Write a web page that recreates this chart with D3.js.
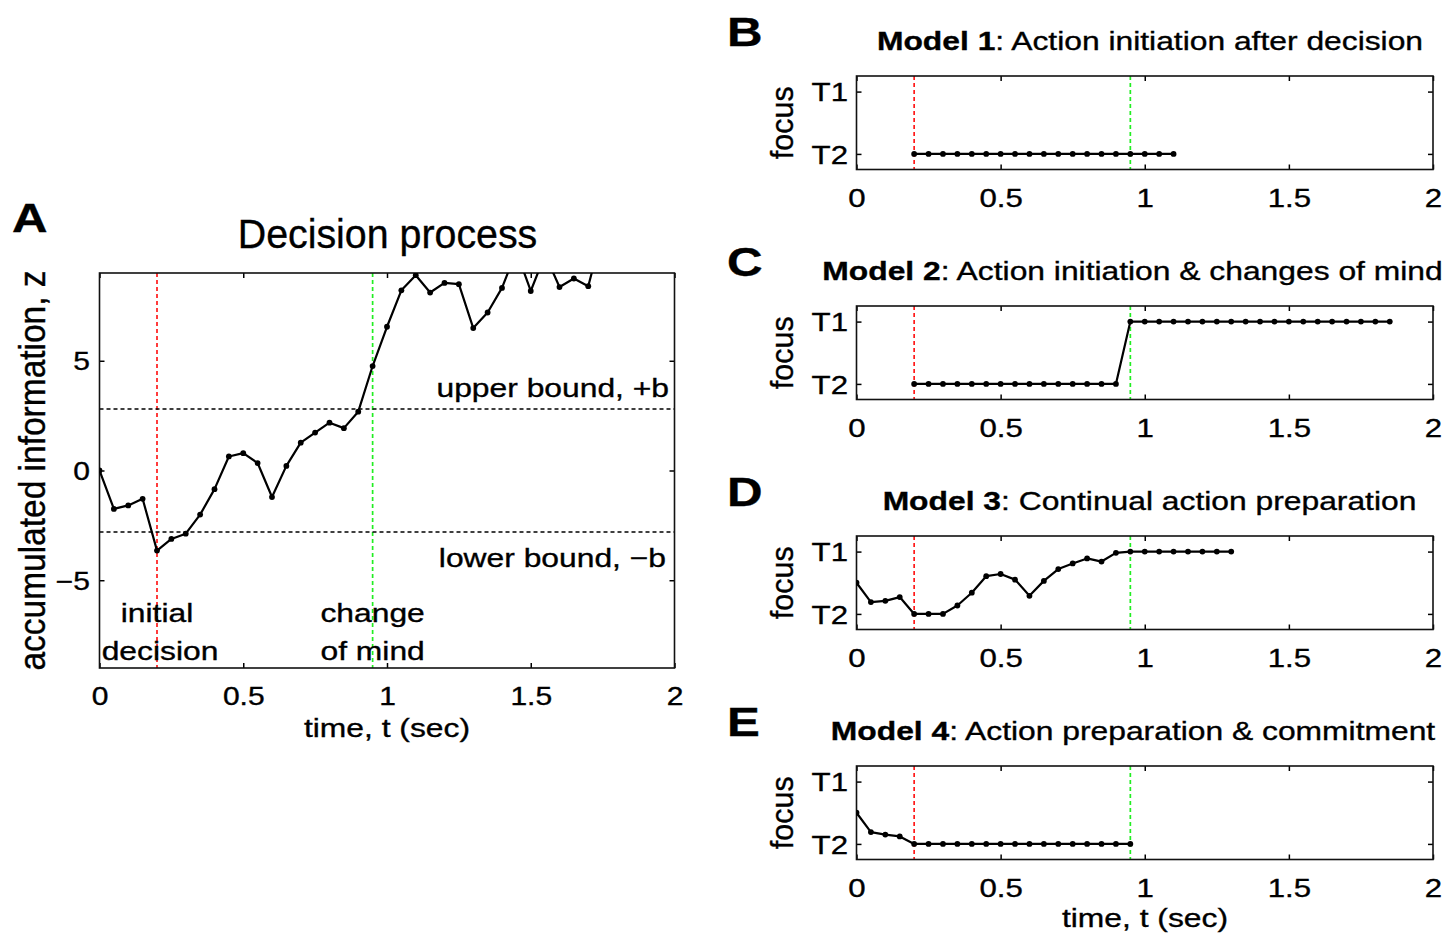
<!DOCTYPE html>
<html>
<head>
<meta charset="utf-8">
<script src="https://cdn.jsdelivr.net/npm/d3@7"></script>
<style>
    body { margin: 0; background: #fff; }
    svg text { font-family: "Liberation Sans", Arial, Helvetica, sans-serif; fill: #000; stroke: #000; stroke-width: 0.35px; }
</style>
</head>
<body>
<svg id="chart" width="1456" height="939"></svg>
<script>
// panel A: random walk of accumulated information
const decisionTimes = [0, 0.05, 0.1, 0.15, 0.2, 0.25, 0.3, 0.35, 0.4, 0.45, 0.5, 0.55, 0.6, 0.65, 0.7, 0.75,
    0.8, 0.85, 0.9, 0.95, 1.0, 1.05, 1.1, 1.15, 1.2, 1.25, 1.3, 1.35, 1.4, 1.45, 1.5, 1.55, 1.6, 1.65, 1.7, 1.75];
const decisionZ = [0, -1.75, -1.59, -1.29, -3.65, -3.12, -2.88, -2.01, -0.85, 0.64, 0.79, 0.34, -1.21, 0.21, 1.27, 1.73,
    2.18, 1.93, 2.68, 4.76, 6.55, 8.21, 8.9, 8.11, 8.55, 8.49, 6.49, 7.2, 8.32, 10.0, 8.18, 9.84, 8.36, 8.75, 8.4, 10.9];
const boundValues = [2.8, -2.8];
const boundLabels = ["upper bound, +b", "lower bound, \u2212b"];
const initialDecisionTime = 0.2;
const changeOfMindTime = 0.95;

const timeTicks = [0, 0.5, 1, 1.5, 2];
const zTicks = [-5, 0, 5];
const focusTicks = [1, 0];
const focusTickLabels = ["T1", "T2"];

// panels B-E: focus of the motor system
const modelNames = ["Model 1", "Model 2", "Model 3", "Model 4"];
const modelTitles = [": Action initiation after decision", ": Action initiation & changes of mind",
    ": Continual action preparation", ": Action preparation & commitment"];
const panelLetters = ["B", "C", "D", "E"];

const model1Times = [0.2, 0.25, 0.3, 0.35, 0.4, 0.45, 0.5, 0.55, 0.6, 0.65, 0.7, 0.75, 0.8, 0.85, 0.9, 0.95, 1.0, 1.05, 1.1];
const model1Focus = [0, 0, 0, 0, 0, 0, 0, 0, 0, 0, 0, 0, 0, 0, 0, 0, 0, 0, 0];

const model2Times = [0.2, 0.25, 0.3, 0.35, 0.4, 0.45, 0.5, 0.55, 0.6, 0.65, 0.7, 0.75, 0.8, 0.85, 0.9,
    0.95, 1.0, 1.05, 1.1, 1.15, 1.2, 1.25, 1.3, 1.35, 1.4, 1.45, 1.5, 1.55, 1.6, 1.65, 1.7, 1.75, 1.8, 1.85];
const model2Focus = [0, 0, 0, 0, 0, 0, 0, 0, 0, 0, 0, 0, 0, 0, 0,
    1, 1, 1, 1, 1, 1, 1, 1, 1, 1, 1, 1, 1, 1, 1, 1, 1, 1, 1];

const model3Times = [0, 0.05, 0.1, 0.15, 0.2, 0.25, 0.3, 0.35, 0.4, 0.45, 0.5, 0.55, 0.6, 0.65, 0.7, 0.75, 0.8, 0.85, 0.9,
    0.95, 1.0, 1.05, 1.1, 1.15, 1.2, 1.25, 1.3];
const model3Focus = [0.5, 0.19, 0.21, 0.27, 0, 0, 0, 0.135, 0.34, 0.605, 0.64, 0.55, 0.29, 0.53, 0.72, 0.81, 0.89, 0.84, 0.98,
    1, 1, 1, 1, 1, 1, 1, 1];

const model4Times = [0, 0.05, 0.1, 0.15, 0.2, 0.25, 0.3, 0.35, 0.4, 0.45, 0.5, 0.55, 0.6, 0.65, 0.7, 0.75, 0.8, 0.85, 0.9, 0.95];
const model4Focus = [0.5, 0.19, 0.15, 0.12, 0, 0, 0, 0, 0, 0, 0, 0, 0, 0, 0, 0, 0, 0, 0, 0];

const modelTimes = [model1Times, model2Times, model3Times, model4Times];
const modelFocus = [model1Focus, model2Focus, model3Focus, model4Focus];

// layout
const SX = 1.2;              // the figure is a bit wider than tall
const FONT_TICK = 25;
const FONT_LABEL = 26.5;
const RED = "#ff1a1a";
const GREEN = "#22ee22";

const svg = d3.select("#chart");

/*
 *  Text, stretched horizontally like the original.
 */
function addText(g, x, y, str, size, anchor, sx) {
    return g.append("text")
        .attr("transform", "translate(" + x + "," + y + ") scale(" + (sx || SX) + ",1)")
        .attr("text-anchor", anchor || "middle")
        .attr("font-size", size)
        .text(str);
}

class Panel {

    constructor(id, xRange, yRange, xDomain, yDomain) {
        this.x = d3.scaleLinear().domain(xDomain).range(xRange);
        this.y = d3.scaleLinear().domain(yDomain).range(yRange);
        this.left = xRange[0];
        this.right = xRange[1];
        this.bottom = yRange[0];
        this.top = yRange[1];
        this.g = svg.append("g");

        this.g.append("clipPath").attr("id", "clip-" + id)
            .append("rect")
            .attr("x", this.left).attr("y", this.top)
            .attr("width", this.right - this.left).attr("height", this.bottom - this.top);
        this.clipId = "clip-" + id;
    }

    /*
     *  Box with inward ticks on all four sides.
     */
    drawAxes(xTicks, yTicks, yFormat, yPad, fontSize) {
        let x = this.x, y = this.y;

        let bottom = this.g.append("g")
            .attr("transform", "translate(0," + this.bottom + ")")
            .call(d3.axisBottom(x).tickValues(xTicks).tickSizeInner(-5).tickSizeOuter(0).tickFormat(d3.format("")));
        bottom.selectAll("text")
            .attr("y", 37.5).attr("dy", null)
            .attr("font-size", fontSize)
            .attr("transform", "scale(" + SX + ",1)");

        this.g.append("g")
            .attr("transform", "translate(0," + this.top + ")")
            .call(d3.axisTop(x).tickValues(xTicks).tickSizeInner(-5).tickSizeOuter(0).tickFormat(() => ""));

        let left = this.g.append("g")
            .attr("transform", "translate(" + this.left + ",0)")
            .call(d3.axisLeft(y).tickValues(yTicks).tickSizeInner(-5).tickSizeOuter(0).tickPadding(0).tickFormat(yFormat));
        left.selectAll("text")
            .attr("x", 0).attr("dy", "0.36em")
            .attr("font-size", fontSize)
            .attr("transform", "translate(" + (-yPad) + ",0) scale(" + SX + ",1)");

        this.g.append("g")
            .attr("transform", "translate(" + this.right + ",0)")
            .call(d3.axisRight(y).tickValues(yTicks).tickSizeInner(-5).tickSizeOuter(0).tickFormat(() => ""));

        this.g.selectAll(".domain").remove();
        this.g.selectAll(".tick line").attr("stroke-width", 1.5);

        this.g.append("rect")
            .attr("x", this.left).attr("y", this.top)
            .attr("width", this.right - this.left).attr("height", this.bottom - this.top)
            .attr("fill", "none").attr("stroke", "#111").attr("stroke-width", 1.6);
    }

    drawEventLine(t, color) {
        this.g.append("line")
            .attr("x1", this.x(t)).attr("x2", this.x(t))
            .attr("y1", this.top).attr("y2", this.bottom)
            .attr("stroke", color).attr("stroke-width", 1.7)
            .attr("stroke-dasharray", "4,3");
    }

    drawBound(v) {
        this.g.append("line")
            .attr("x1", this.left).attr("x2", this.right)
            .attr("y1", this.y(v)).attr("y2", this.y(v))
            .attr("stroke", "#000").attr("stroke-width", 1.6)
            .attr("stroke-dasharray", "4,3");
    }

    drawSeries(times, values) {
        let pts = times.map((t, i) => [t, values[i]]);
        let line = d3.line().x(d => this.x(d[0])).y(d => this.y(d[1]));
        let s = this.g.append("g").attr("clip-path", "url(#" + this.clipId + ")");

        s.append("path")
            .attr("d", line(pts))
            .attr("fill", "none").attr("stroke", "#000").attr("stroke-width", 2.2)
            .attr("stroke-linejoin", "round");

        s.selectAll("circle").data(pts).enter().append("circle")
            .attr("cx", d => this.x(d[0])).attr("cy", d => this.y(d[1]))
            .attr("r", 2.9).attr("fill", "#000");
    }
}

/*
 *  Panel A: decision process.
 */
let pa = new Panel("a", [99.5, 674.5], [668, 273], [0, 2], [-9, 9]);
pa.drawEventLine(initialDecisionTime, RED);
pa.drawEventLine(changeOfMindTime, GREEN);
boundValues.forEach(b => pa.drawBound(b));
pa.drawAxes(timeTicks, zTicks, d3.format(""), 9.5, FONT_TICK);
pa.drawSeries(decisionTimes, decisionZ);

addText(pa.g, 669, 396.5, boundLabels[0], FONT_LABEL, "end");
addText(pa.g, 666, 567, boundLabels[1], FONT_LABEL, "end");
addText(pa.g, pa.x(initialDecisionTime), 622, "initial", FONT_LABEL);
addText(pa.g, pa.x(initialDecisionTime) + 3, 660, "decision", FONT_LABEL);
addText(pa.g, pa.x(changeOfMindTime), 622, "change", FONT_LABEL);
addText(pa.g, pa.x(changeOfMindTime), 660, "of mind", FONT_LABEL);

addText(pa.g, 387, 737, "time, t (sec)", FONT_LABEL);
pa.g.append("text")
    .attr("transform", "translate(45,470.5) rotate(-90) scale(1,1.1)")
    .attr("text-anchor", "middle")
    .attr("font-size", 33.5)
    .text("accumulated information, z");
addText(pa.g, 387.5, 248, "Decision process", 41, "middle", 0.96);
addText(svg, 12, 232, "A", 41, "start").attr("font-weight", "bold");

/*
 *  Panels B-E: focus for each model.
 */
const panelTops = [76, 306, 536, 766];
const titleCenters = [1150, 1132.5, 1149.5, 1133];

modelNames.forEach((name, i) => {
    let top = panelTops[i];
    let p = new Panel("m" + i, [856.5, 1433], [top + 93.5, top], [0, 2], [-0.25, 1.25]);
    p.drawEventLine(initialDecisionTime, RED);
    p.drawEventLine(changeOfMindTime, GREEN);
    p.drawAxes(timeTicks, focusTicks, d => focusTickLabels[focusTicks.indexOf(d)], 8.5, 26);
    p.drawSeries(modelTimes[i], modelFocus[i]);

    let title = addText(p.g, titleCenters[i], top - 26, "", FONT_LABEL);
    title.append("tspan").attr("font-weight", "bold").text(name);
    title.append("tspan").text(modelTitles[i]);

    p.g.append("text")
        .attr("transform", "translate(793," + (top + 46.75) + ") rotate(-90) scale(1,1.05)")
        .attr("text-anchor", "middle")
        .attr("font-size", 30.5)
        .text("focus");

    addText(svg, 727, top - 30, panelLetters[i], 41, "start").attr("font-weight", "bold");

    if(i === modelNames.length - 1) {
        addText(p.g, 1145, top + 161, "time, t (sec)", FONT_LABEL);
    }
});
</script>
</body>
</html>
